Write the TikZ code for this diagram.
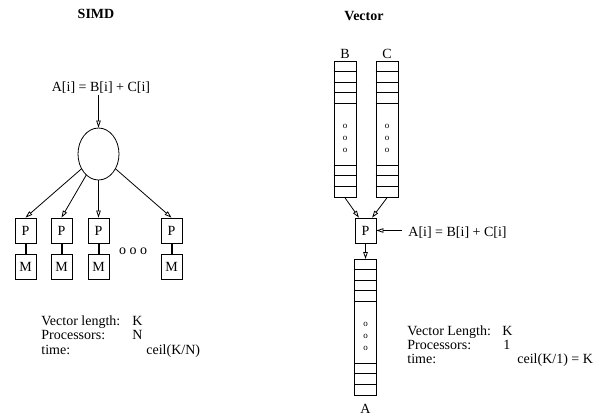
\documentclass[tikz,border=0pt]{standalone}
\usepackage{fontspec}
\setmainfont{Liberation Serif}
\usetikzlibrary{arrows.meta,shapes.geometric,positioning,calc}

\begin{document}
\begin{tikzpicture}[x=1pt,y=-1pt,
  font=\fontsize{14}{16}\selectfont,
  line width=0.8pt,
  box/.style={draw,rectangle,minimum width=21pt,minimum height=25pt,inner sep=0pt},
  vcol/.style={draw,rectangle,minimum width=22pt,minimum height=136pt,inner sep=0pt},
  arr/.style={-{Triangle[open,length=7pt,width=4.5pt]}},
  link/.style={line width=2pt},
  ttl/.style={font=\fontsize{14}{16}\selectfont\bfseries,anchor=base},
  lbl/.style={anchor=base west,inner sep=0pt},
  vdots/.style={font=\fontsize{9}{12}\selectfont,align=center,inner sep=0pt}
]
\useasboundingbox (0,0) rectangle (603,415);

% ---------- Left: SIMD
\node[ttl] (tsimd) at (96,18) {SIMD};
\node[anchor=base,inner sep=2pt] (fsimd) at (101,91) {A[i] = B[i] + C[i]};
\node[draw,ellipse,minimum width=41pt,minimum height=52pt,inner sep=0pt] (ell) at (98.5,154) {};
\draw[arr] (fsimd.south -| ell.north) -- (ell.north);
\foreach \i/\x in {1/25.5,2/61.5,3/98.5,4/171.5}{
  \node[box] (p\i) at (\x,230.5) {P};
  \node[box] (m\i) at (\x,266.5) {M};
  \draw[link] (p\i) -- (m\i);
  \draw[arr] (ell) -- (p\i.north);
}
\node (sdots) at (133,251) {o o o};
\foreach \y/\a/\b/\bx [count=\i] in {325/Vector length:/K/132, 339.5/Processors:/N/132, 354/time:/{ceil(K/N)}/146}{
  \node[lbl] (sk\i) at (41,\y) {\a};
  \node[lbl] (sv\i) at (\bx,\y) {\b};
}

% ---------- Right: vector unit
\node[ttl] (tvec) at (364,20) {Vector};
\foreach \n/\x/\y in {colB/345/61, colC/387/61, colA/365.5/259}{
  \node[vcol,anchor=north] (\n) at (\x,\y) {};
  \foreach \d in {10.5,21,31.5,42,104,114.5,125}
    \draw (\n.north west) ++(0,\d) -- ++(22,0);
  \node[vdots] (d\n) at ($(\n.north)+(0,77)$) {o\\o\\o};
}
\node[anchor=base] (lB) at (345,58) {B};
\node[anchor=base] (lC) at (387,58) {C};
\node[anchor=base] (lA) at (365.5,413) {A};

\node[box] (pv) at (365.5,230.5) {P};
\draw[arr] (colB.south) -- (pv.117);
\draw[arr] (colC.south) -- (pv.63);
\node[anchor=base west,inner xsep=6pt,inner ysep=0pt] (fvec) at (402,236) {A[i] = B[i] + C[i]};
\draw[arr] (fvec.west |- pv.east) -- (pv.east);
\draw[arr] (pv.south) -- (colA.north);
\foreach \y/\a/\b/\bx [count=\i] in {335/Vector Length:/K/502, 349/Processors:/1/503, 363/time:/{ceil(K/1) = K}/517}{
  \node[lbl] (vk\i) at (407,\y) {\a};
  \node[lbl] (vv\i) at (\bx,\y) {\b};
}
\end{tikzpicture}
\end{document}
